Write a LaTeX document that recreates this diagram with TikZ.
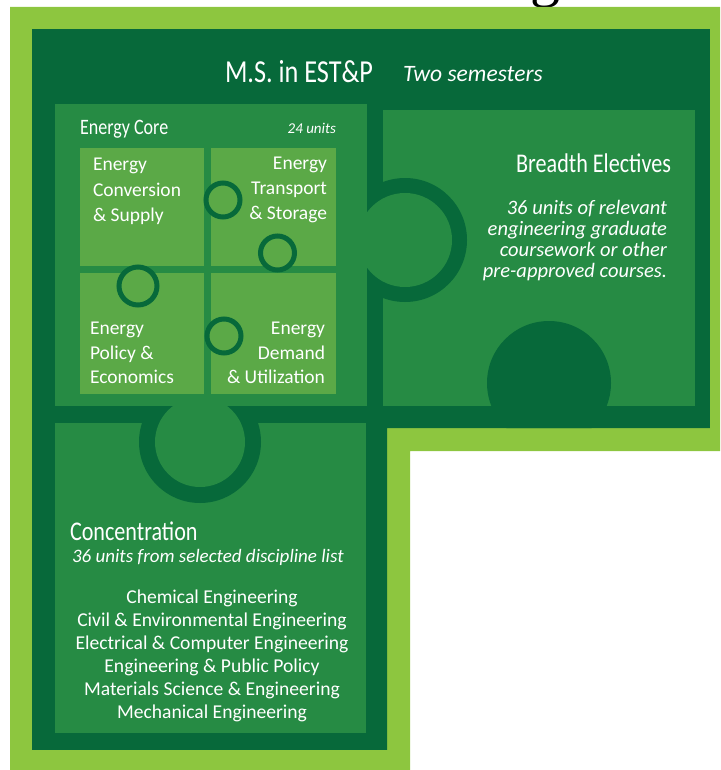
\documentclass[tikz,border=0pt]{standalone}
\usepackage{fontspec}
\setmainfont{Carlito}
\newfontfamily\condfont[FakeStretch=0.82]{Carlito}
\newfontfamily\titleserif{Liberation Serif}
\definecolor{leaf}{HTML}{8DC63F}
\definecolor{forest}{HTML}{07693A}
\definecolor{moss}{HTML}{268B44}
\definecolor{fern}{HTML}{5BA947}
\begin{document}
\begin{tikzpicture}[x=1pt,y=-1pt,
  lbl/.style={text=white, inner sep=0pt, outer sep=0pt},
  headtxt/.style={lbl, font=\condfont\fontsize{#1}{#1}\selectfont},
  piecetxt/.style={lbl, font=\fontsize{19.5}{20}\selectfont},
  notetxt/.style={lbl, font=\itshape\fontsize{#1}{#1}\selectfont},
  listtxt/.style={lbl, font=\fontsize{19.6}{20}\selectfont, anchor=base},
  ring/.style={draw=forest, line width=5pt, fill=fern}]
\useasboundingbox (0,0) rectangle (720,770);

% cut-off heading above the frame
\begin{scope}
  \clip (0,0) rectangle (720,770);
  \node[inner sep=0pt, anchor=base, font=\titleserif\fontsize{60}{60}\selectfont] (headg) at (545,-4) {g};
\end{scope}

% outer light frame and dark board
\fill[leaf] (10,7) -- (720,7) -- (720,451) -- (410,451) -- (410,770) -- (10,770) -- cycle;
\begin{scope}
  \clip (32,29) -- (710,29) -- (710,428) -- (387,428) -- (387,750) -- (32,750) -- cycle;
  \fill[forest] (32,29) rectangle (710,750);
  % breadth and concentration pieces
  \fill[moss] (383,110) rectangle (695,406);
  \fill[moss] (55,423) rectangle (366,733);
  % knob from the piece below the breadth block
  \fill[forest] (549,383) circle[radius=62pt];
  % outlines of the core tabs
  \fill[forest] (405,240) circle[radius=62pt];
  \fill[forest] (200,442) circle[radius=61pt];
  % energy core piece
  \fill[moss] (55,104) rectangle (367,406);
  \fill[moss] (405,240) circle[radius=47pt];
  \fill[moss] (200,442) circle[radius=45pt];
\end{scope}

% the four core puzzle pieces
\fill[fern] (80,148) rectangle (204,266);
\fill[fern] (211,148) rectangle (336,266);
\fill[fern] (80,273) rectangle (204,394);
\fill[fern] (211,273) rectangle (336,394);
\draw[ring] (223,200) circle[radius=17pt];
\draw[ring] (277.5,253) circle[radius=17pt];
\draw[ring] (138,286) circle[radius=19pt];
\draw[ring] (224,336) circle[radius=17pt];

% headings
\node[headtxt=32, anchor=base west] (title) at (225,83) {M.S. in EST\&P};
\node[lbl, font=\itshape\fontsize{23.5}{24}\selectfont, anchor=base west] (term) at (403,82) {Two semesters};
\node[headtxt=22, anchor=base west] (core) at (80,135) {Energy Core};
\node[notetxt=15, anchor=base east] (coreunits) at (336,134) {24 units};

% core pieces
\foreach \t [count=\i, evaluate=\i as \yy using 146+25*\i] in {Energy, Conversion, \& Supply}
  \node[piecetxt, anchor=base west] (conv\i) at (93,\yy) {\t};
\foreach \t [count=\i, evaluate=\i as \yy using 144+25*\i] in {Energy, Transport, \& Storage}
  \node[piecetxt, anchor=base east] (trans\i) at (327,\yy) {\t};
\foreach \t [count=\i, evaluate=\i as \yy using 310+24.5*\i] in {Energy, Policy \&, Economics}
  \node[piecetxt, anchor=base west] (policy\i) at (90,\yy) {\t};
\foreach \t [count=\i, evaluate=\i as \yy using 310+24.5*\i] in {Energy, Demand, \& Utilization}
  \node[piecetxt, anchor=base east] (demand\i) at (325,\yy) {\t};

% breadth electives
\node[headtxt=27, anchor=base east] (breadth) at (671,172) {Breadth Electives};
\foreach \t [count=\i, evaluate=\i as \yy using 193+21*\i] in {36 units of relevant, engineering graduate, coursework or other, pre-approved courses.}
  \node[notetxt=20.5, anchor=base east] (bnote\i) at (667,\yy) {\t};

% concentration
\node[headtxt=27, anchor=base west] (conc) at (70,540) {Concentration};
\node[notetxt=19, anchor=base west] (concunits) at (72,562) {36 units from selected discipline list};
\foreach \t [count=\i, evaluate=\i as \yy using 580+23*\i] in {Chemical Engineering, Civil \& Environmental Engineering, Electrical \& Computer Engineering, Engineering \& Public Policy, Materials Science \& Engineering, Mechanical Engineering}
  \node[listtxt] (disc\i) at (212,\yy) {\t};
\end{tikzpicture}
\end{document}
